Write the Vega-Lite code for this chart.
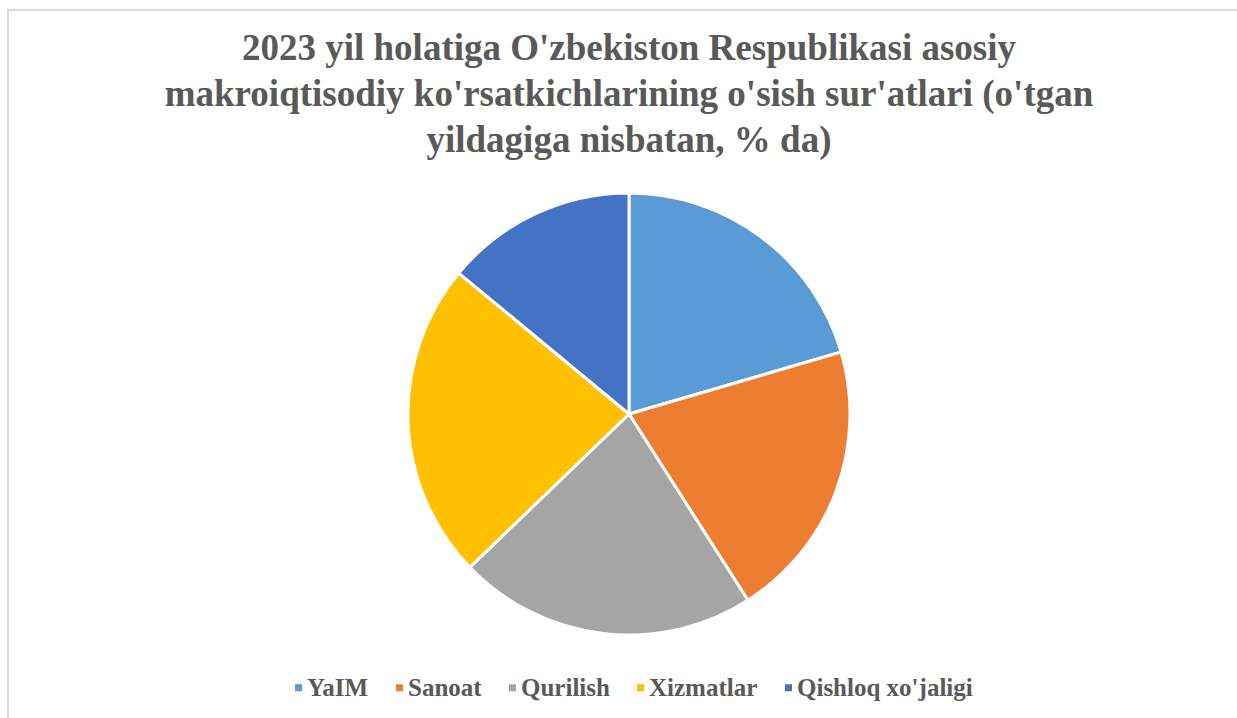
{
  "$schema": "https://vega.github.io/schema/vega-lite/v6.json",
  "width": 1242,
  "height": 808,
  "autosize": {"type": "none"},
  "padding": {"left": 8, "top": 10, "right": 0, "bottom": 0},
  "background": "white",
  "title": {
    "text": ["2023 yil holatiga O'zbekiston Respublikasi asosiy", "makroiqtisodiy ko'rsatkichlarining o'sish sur'atlari (o'tgan", "yildagiga nisbatan, % da)"],
    "font": "Liberation Serif",
    "fontSize": 37,
    "fontWeight": "bold",
    "color": "#595959",
    "anchor": "middle",
    "lineHeight": 46,
    "offset": -151
  },
  "layer": [
    {
      "data": {"values": [{"frame": 1}]},
      "mark": {"type": "rect", "fill": null, "fillOpacity": 0, "stroke": "#d9d9d9", "strokeWidth": 2},
      "encoding": {}
    },
    {
      "data": {
        "values": [
          {"name": "YaIM", "value": 6.0, "idx": 1},
          {"name": "Sanoat", "value": 6.0, "idx": 2},
          {"name": "Qurilish", "value": 6.4, "idx": 3},
          {"name": "Xizmatlar", "value": 6.8, "idx": 4},
          {"name": "Qishloq xo'jaligi", "value": 4.1, "idx": 5}
        ]
      },
      "mark": {"type": "arc", "outerRadius": 221, "stroke": "white", "strokeWidth": 3},
      "encoding": {
        "theta": {"field": "value", "type": "quantitative", "stack": true},
        "color": {
          "field": "name",
          "type": "nominal",
          "scale": {
            "domain": ["YaIM", "Sanoat", "Qurilish", "Xizmatlar", "Qishloq xo'jaligi"],
            "range": ["#5B9BD5", "#ED7D31", "#A5A5A5", "#FFC000", "#4472C4"]
          },
          "legend": {
            "title": null,
            "orient": "none",
            "legendX": 278,
            "legendY": 665,
            "direction": "horizontal",
            "columns": 5,
            "symbolType": "square",
            "symbolSize": 49,
            "symbolStrokeWidth": 0,
            "labelFont": "Liberation Serif",
            "labelFontSize": 25,
            "labelFontWeight": "bold",
            "labelColor": "#595959",
            "columnPadding": 18,
            "labelOffset": -4,
            "labelLimit": 400
          }
        },
        "order": {"field": "idx", "type": "quantitative"}
      }
    }
  ],
  "config": {"view": {"stroke": null}}
}
